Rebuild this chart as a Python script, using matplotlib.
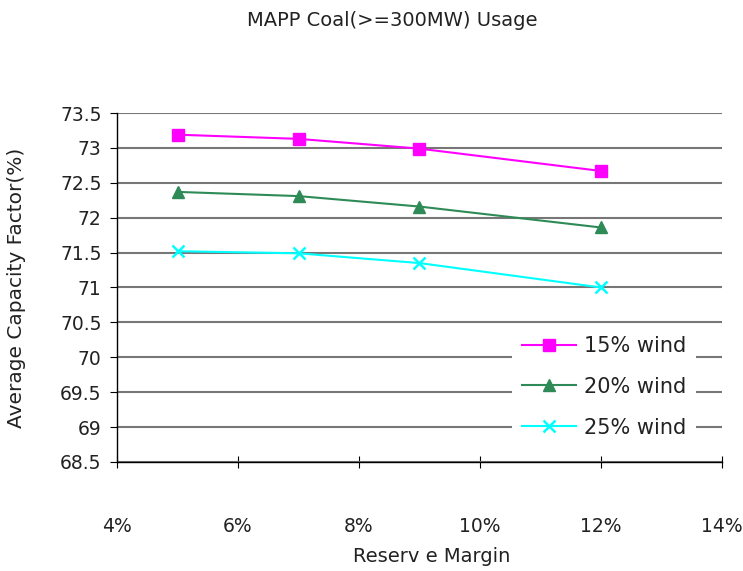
import matplotlib
matplotlib.use("Agg")
import matplotlib.pyplot as plt
from matplotlib.ticker import FuncFormatter

# reserve margin (%)
reserve = [5, 7, 9, 12]

# average capacity factor (%) per wind share
wind15 = [73.19, 73.13, 72.99, 72.67]
wind20 = [72.37, 72.31, 72.16, 71.86]
wind25 = [71.52, 71.49, 71.35, 71.00]

labels = ["15% wind", "20% wind", "25% wind"]

plt.rcParams['font.family'] = ['DejaVu Sans']
txt = '#222222'

fig = plt.figure(figsize=(7.43, 5.71), dpi=100)
ax = fig.add_axes([0.1575, 0.191, 0.8142, 0.611])

ax.plot(reserve, wind15, color='#ff00ff', marker='s', markersize=8, lw=1.5, label=labels[0])
ax.plot(reserve, wind20, color='#2e8b57', marker='^', markersize=9, lw=1.5, label=labels[1])
ax.plot(reserve, wind25, color='#00ffff', marker='x', markersize=9, mew=1.8, lw=1.5, label=labels[2])

ax.set_xlim(4, 14)
ax.set_ylim(68.5, 73.5)
ax.set_xticks([4, 6, 8, 10, 12, 14])
ax.set_yticks([68.5 + 0.5 * i for i in range(11)])
ax.xaxis.set_major_formatter(FuncFormatter(lambda v, p: "%d%%" % v))
ax.yaxis.set_major_formatter(FuncFormatter(lambda v, p: ("%g" % v)))

ax.grid(axis='y', color='#777777', lw=1.5)
ax.set_axisbelow(True)
for s in ['top', 'right']:
    ax.spines[s].set_visible(False)
for s in ['left', 'bottom']:
    ax.spines[s].set_color('black')
    ax.spines[s].set_linewidth(1)

ax.tick_params(axis='y', direction='out', length=5, labelsize=13.5, pad=6, labelcolor=txt)
ax.tick_params(axis='x', direction='inout', length=8, labelsize=13.5, pad=36, labelcolor=txt)

fig.text(0.528, 1 - 20 / 571, "MAPP Coal(>=300MW) Usage", fontsize=14, color=txt,
         ha='center', va='center')
ax.set_xlabel("Reserv e Margin", fontsize=14, color=txt)
ax.xaxis.set_label_coords(0.52, -0.245)
ax.set_ylabel("Average Capacity Factor(%)", fontsize=14.5, color=txt)
ax.yaxis.set_label_coords(-0.15, 0.5)

leg = ax.legend(loc='lower right', bbox_to_anchor=(0.975, 0.01), frameon=True,
                fontsize=15, handlelength=2.6, handletextpad=0.35,
                labelspacing=1.0, borderpad=0.5)
leg.get_frame().set_edgecolor('none')
leg.get_frame().set_facecolor('white')
leg.get_frame().set_alpha(1)
for t in leg.get_texts():
    t.set_color(txt)

fig.savefig("out.png", dpi=100)
